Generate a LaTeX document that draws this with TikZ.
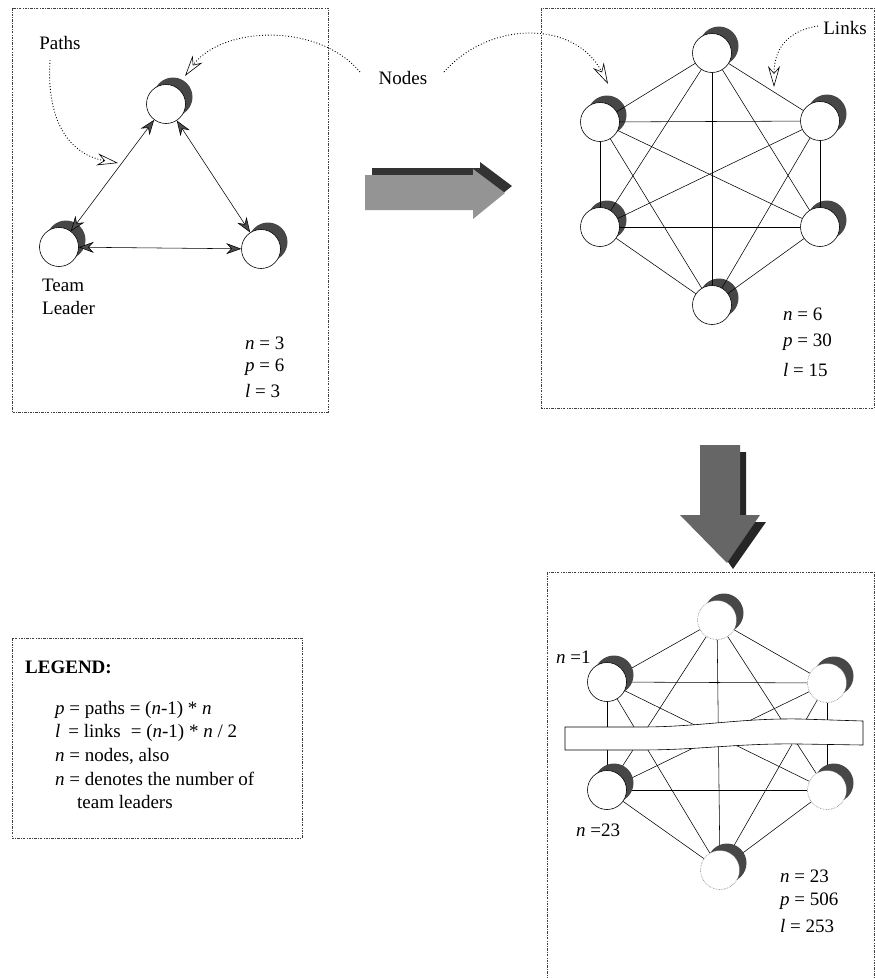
\documentclass[tikz,border=0pt]{standalone}
\usepackage{fontspec}
\setmainfont{Liberation Serif}
\usetikzlibrary{arrows.meta,backgrounds}

\newcommand\teamnode[3][nd]{%
  \node[shd, xshift=7pt, yshift=7pt] at (#3) {};
  \node[#1] (#2) at (#3) {};}

\begin{document}
\begin{tikzpicture}[x=1pt,y=-1pt,
  every node/.style={font=\fontsize{19}{23}\selectfont},
  frame/.style={draw=black!75, line width=0.6pt, dash pattern=on 2.5pt off 1.2pt on 0.8pt off 1.2pt},
  nd/.style={circle, draw, fill=white, minimum size=39pt, inner sep=0pt, line width=0.6pt},
  shd/.style={circle, fill=black!72, minimum size=39pt, inner sep=0pt},
  ghost/.style={nd, draw=black!55, densely dotted},
  link/.style={line width=0.55pt},
  twoway/.style={line width=0.55pt,
    {Stealth[length=15pt,width=11pt,inset=5pt,fill=black!70]}-{Stealth[length=15pt,width=11pt,inset=5pt,fill=black!70]}},
  note/.style={line width=0.9pt, dotted,
    -{Stealth[open,length=21pt,width=12pt,inset=7pt,fill=white,line width=0.6pt]}},
  txt/.style={inner sep=0pt, anchor=west},
]
\useasboundingbox (0,0) rectangle (875,978);
\clip (0,0) rectangle (875,978);

% ---------- frames ----------
\draw[frame] (12,8) rectangle (328,412);
\draw[frame] (541,8) rectangle (874,408);
\draw[frame] (547,572) rectangle (874,995);
\draw[frame] (12,638) rectangle (302,838);

% ---------- three team leaders ----------
\teamnode{ta}{166,104}
\teamnode{tb}{59,247}
\teamnode{tc}{261,249}
\draw[twoway] (ta) -- (tb);
\draw[twoway] (ta) -- (tc);
\draw[twoway] (tb) -- (tc);

\node (paths) at (60,43) {Paths};
\node[txt] (team) at (42,285) {Team};
\node[txt] (leader) at (42,308) {Leader};
\node[txt] (n3) at (245,343) {\textit{n} = 3};
\node[txt] (p3) at (245,367) {\textit{p} = 6};
\node[txt] (l3) at (245,391) {\textit{l} = 3};

\coordinate (pathtip) at (118,163);
\draw[note] (50,60) .. controls (46,125) and (72,155) .. (pathtip);

% ---------- six team leaders ----------
\teamnode{h1}{712,53}
\teamnode{h2}{600,122}
\teamnode{h3}{820,121}
\teamnode{h4}{600,227}
\teamnode{h5}{820,227}
\teamnode{h6}{712,305}
\foreach \a/\b in {h1/h2,h1/h3,h1/h4,h1/h5,h1/h6,h2/h3,h2/h4,h2/h5,h2/h6,h3/h4,h3/h5,h3/h6,h4/h5,h4/h6,h5/h6}
  \draw[link] (\a) -- (\b);

\node (links) at (845,28) {Links};
\node[txt] (n6) at (783,314) {\textit{n} = 6};
\node[txt] (p6) at (783,342) {\textit{p} = 30};
\node[txt] (l6) at (783,370) {\textit{l} = 15};

\node (nodes) at (403,78) {Nodes};
\coordinate (tipa) at (185,76);
\coordinate (tipb) at (608,84);
\coordinate (tipc) at (774,87);
\draw[note] (360,72) .. controls (318,22) and (222,26) .. (tipa);
\draw[note] (444,72) .. controls (490,20) and (575,20) .. (tipb);
\draw[note] (818,26) .. controls (792,30) and (774,45) .. (tipc);

% ---------- block arrows ----------
\fill[black!80] (372,168) -- (480,168) -- (480,162) -- (512,186) -- (480,212) -- (480,203) -- (372,203) -- cycle;
\fill[black!42] (365,175) -- (473,175) -- (473,169) -- (505,193) -- (473,219) -- (473,210) -- (365,210) -- cycle;

\fill[black!85] (706,452) -- (746,452) -- (746,522) -- (766,522) -- (733,569) -- (700,522) -- (706,522) -- cycle;
\fill[black!60] (700,445) -- (740,445) -- (740,515) -- (760,515) -- (727,563) -- (680,515) -- (700,515) -- cycle;

% ---------- many team leaders ----------
\teamnode[ghost]{g1}{717,620}
\teamnode{g2}{607,682}
\teamnode[ghost]{g3}{827,683}
\teamnode{g4}{607,790}
\teamnode[ghost]{g5}{827,790}
\teamnode[ghost]{g6}{720,870}
\begin{scope}[on background layer]
\foreach \a/\b in {g1/g2,g1/g3,g1/g4,g1/g5,g1/g6,g2/g3,g2/g4,g2/g5,g2/g6,g3/g4,g3/g5,g3/g6,g4/g5,g4/g6,g5/g6}
  \draw[link] (\a) -- (\b);
\filldraw[fill=white, draw=black, line width=0.6pt]
  (565,727) -- (640,727) .. controls (700,727) and (740,718) .. (800,719) -- (863,721)
  -- (863,745) -- (800,744) .. controls (740,743) and (700,750) .. (640,750) -- (565,750) -- cycle;
\end{scope}

\node[txt] (n1) at (556,657) {\textit{n} =1};
\node[txt] (n23a) at (576,830) {\textit{n} =23};
\node[txt] (n23) at (780,876) {\textit{n} = 23};
\node[txt] (p23) at (780,901) {\textit{p} = 506};
\node[txt] (l23) at (780,926) {\textit{l} = 253};

% ---------- legend ----------
\node[txt, font=\fontsize{19}{23}\selectfont\bfseries] (legend) at (25,667) {LEGEND:};
\node[txt] (lg1) at (55,710) {\textit{p} = paths = (\textit{n}-1) * \textit{n}};
\node[txt] (lg2) at (55,733) {\textit{l} \,= links \;= (\textit{n}-1) * \textit{n} / 2};
\node[txt] (lg3) at (55,756) {\textit{n} = nodes, also};
\node[txt] (lg4) at (55,779) {\textit{n} = denotes the number of};
\node[txt] (lg5) at (77,802) {team leaders};
\end{tikzpicture}
\end{document}
